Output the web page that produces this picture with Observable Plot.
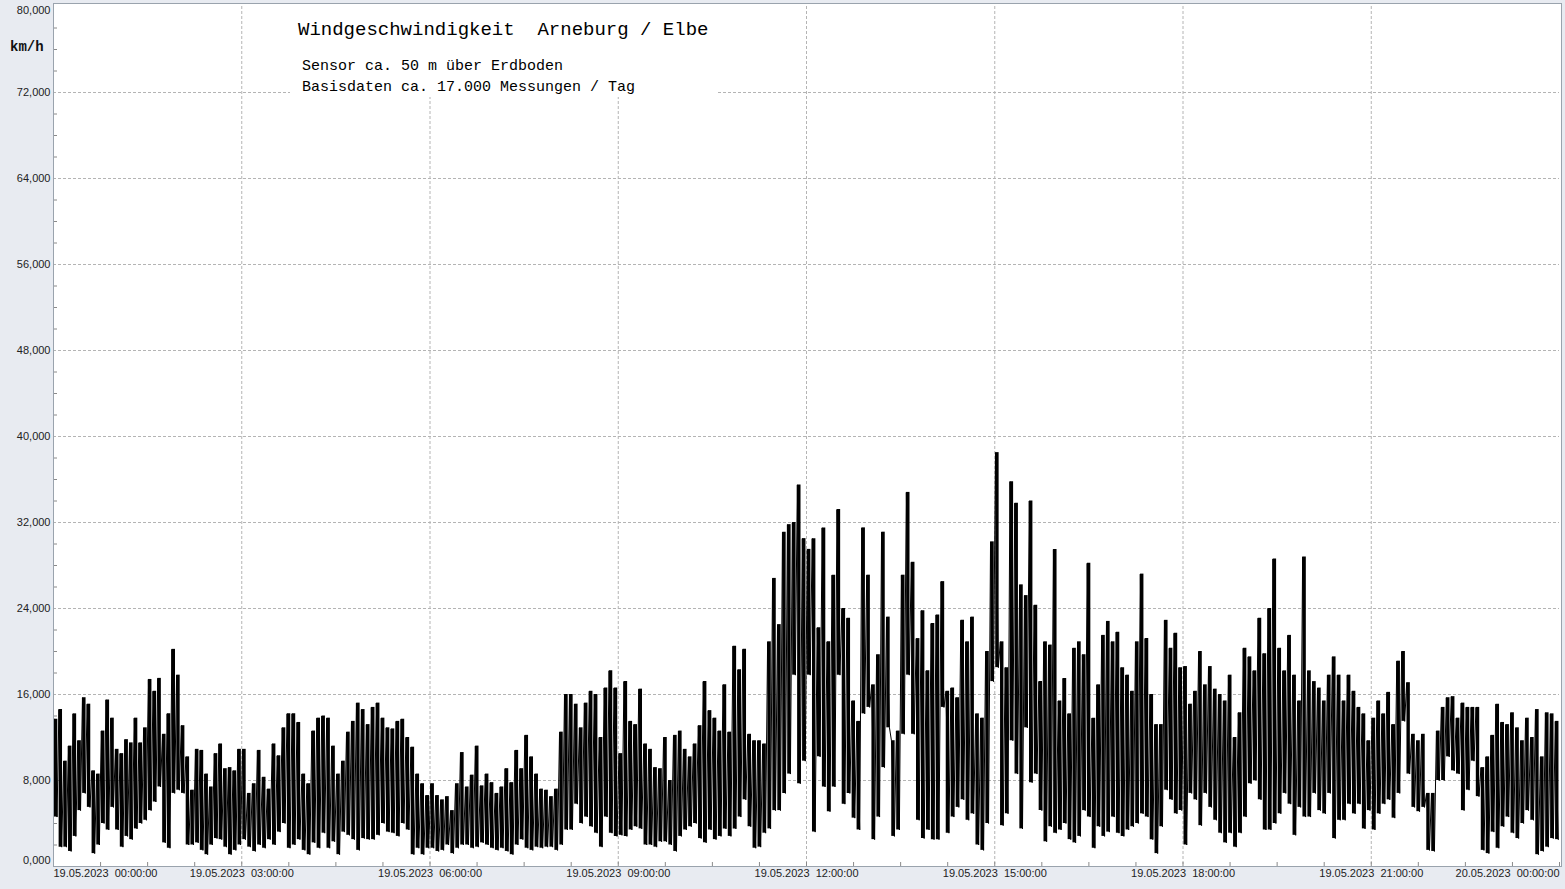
<!DOCTYPE html>
<html>
<head>
<meta charset="utf-8">
<script src="https://cdn.jsdelivr.net/npm/d3@7"></script>
<script src="https://cdn.jsdelivr.net/npm/@observablehq/plot@0.6"></script>
<style>
  html, body { margin: 0; padding: 0; background: #e8ebf1; }
  #wrap { position: relative; width: 1565px; height: 889px; overflow: hidden; background: #e8ebf1; }
  #titlebox { position: absolute; left: 290px; top: 6px; width: 428px; height: 91px; background: #ffffff;
              font-family: "Liberation Mono", "Courier New", monospace; color: #000; }
  #titlebox div { position: absolute; white-space: pre; }
  #t1 { left: 8px; top: 14px; font-size: 19px; line-height: 20px; }
  #t2 { left: 12px; top: 53px; font-size: 15px; line-height: 16px; }
  #t3 { left: 12px; top: 74px; font-size: 15px; line-height: 16px; }
  #unit { position: absolute; left: 10px; top: 39px; font-family: "Liberation Mono", "Courier New", monospace;
          font-weight: bold; font-size: 14px; line-height: 16px; color: #111; }
</style>
</head>
<body>
<div id="wrap">
  <div id="chart"></div>
  <div id="unit">km/h</div>
  <div id="titlebox">
    <div id="t1">Windgeschwindigkeit  Arneburg / Elbe</div>
    <div id="t2">Sensor ca. 50 m über Erdboden</div>
    <div id="t3">Basisdaten ca. 17.000 Messungen / Tag</div>
  </div>
</div>
<script>
// ---- Data (km/h): per ~5-minute slot the highest and lowest value ----
// 00:00 - 03:00
const hi00 = [13.7,14.6,9.8,11.2,14.2,11.7,15.7,15.1,8.9,8.6,12.6,15.5,13.8,10.9,10.5,11.8,11.5,13.8,11.5,12.9,17.4,16.3,17.5,12.3,14.2,20.2,17.8,13.1,10.2,7.1,10.9,10.8,8.6,7.4,10.5,11.4,9.1,9.2,8.9,10.9];
const lo00 = [4.6,1.8,1.8,1.4,2.8,5.2,6.8,5.5,1.2,2.0,4.0,3.4,5.5,3.4,1.8,2.8,2.5,3.5,4.0,4.3,5.2,6.0,7.4,2.2,1.7,6.8,7.1,6.8,2.0,2.0,2.2,1.5,1.1,2.0,2.6,2.5,1.8,1.1,1.5,2.0];
// 03:00 - 06:00
const hi03 = [10.9,6.8,7.7,10.8,8.3,7.2,11.4,10.3,12.9,14.2,14.2,13.4,8.6,7.7,12.6,13.8,14.0,13.8,11.2,8.6,9.8,12.5,13.5,15.2,14.6,13.2,14.8,15.2,13.8,12.9,12.8,13.5,13.7,12.0,11.1,8.6,7.7,6.6];
const lo03 = [2.5,1.8,1.4,2.0,1.7,2.5,2.0,3.2,4.0,1.7,2.0,2.5,1.5,1.1,2.2,1.7,3.1,1.7,2.3,1.1,3.2,2.9,2.5,1.5,2.6,2.5,2.5,2.9,4.0,3.2,3.1,2.8,4.0,3.4,1.1,1.7,1.1,1.7];
// 06:00 - 09:00
const hi06 = [7.7,6.6,6.2,6.5,5.2,7.7,10.6,7.4,8.5,11.2,7.5,8.6,7.8,6.8,7.4,9.1,7.8,10.8,9.1,12.2,10.2,8.6,7.2,7.1,6.5,7.2,12.5,16.0,16.0,15.1,12.9,15.2,16.3,16.0,12.0,16.6,18.2,16.6];
const lo06 = [1.7,1.4,1.5,2.0,1.2,1.7,2.0,2.0,1.7,1.8,2.2,2.0,1.7,1.5,1.7,1.4,1.1,2.0,2.5,1.7,1.5,1.8,1.7,1.8,1.8,1.5,2.0,3.4,3.4,5.8,4.0,4.6,3.7,3.1,1.8,4.6,3.1,2.8];
// 09:00 - 12:00
const hi09 = [10.5,17.2,13.5,13.2,16.5,11.4,10.9,9.2,9.1,12.0,8.0,12.2,12.6,10.9,10.2,11.4,13.1,17.2,14.5,13.8,12.6,16.9,12.5,20.5,18.3,20.2,12.3,11.7,11.7,11.4,20.9,26.8,22.5,31.1,31.8,32.0,35.5,30.5];
const lo09 = [2.9,2.8,3.4,3.7,3.5,2.0,2.0,1.8,2.3,2.3,2.0,1.4,2.8,3.4,3.7,4.0,2.6,2.2,3.4,2.5,2.8,3.5,2.8,3.5,4.6,6.2,3.7,1.7,1.8,3.1,3.5,5.2,5.2,6.8,8.6,17.8,7.7,9.8];
// 12:00 - 15:00
const hi12 = [29.5,30.5,22.2,31.5,20.9,27.1,33.2,24.0,23.1,15.4,13.5,31.5,27.1,16.9,19.7,31.1,23.2,11.7,12.6,27.1,34.8,28.3,21.2,23.8,18.2,22.6,23.4,26.5,16.3,16.6,15.7,22.9,20.9,23.2,14.2,13.8,20.0,30.2];
const lo12 = [17.8,3.2,10.2,7.4,5.1,7.4,17.8,5.8,6.8,4.5,3.4,14.2,14.8,2.5,4.6,9.2,12.9,2.8,3.4,12.3,17.8,12.3,4.3,2.6,3.4,2.5,2.5,14.8,3.1,4.6,5.5,6.2,4.3,4.9,2.0,1.5,4.0,17.2];
// 15:00 - 18:00
const hi15 = [38.5,20.9,18.5,35.8,33.8,26.2,25.2,34.0,24.3,17.2,20.9,20.6,29.5,15.4,17.5,14.2,20.3,20.9,19.7,28.2,13.8,16.9,21.5,22.8,20.9,21.8,18.5,17.8,16.3,20.9,27.2,21.2,16.0,13.2,13.2,22.9,20.3,21.7,18.5];
const lo15 = [18.5,3.8,4.9,11.7,8.6,3.5,12.9,7.8,8.6,5.2,2.3,3.7,3.1,3.4,4.0,2.5,2.2,2.8,5.2,4.6,1.7,3.7,2.8,3.2,4.6,3.1,2.8,3.4,3.7,4.0,4.9,4.6,2.5,1.2,3.7,7.1,6.2,4.9,5.2];
// 18:00 - 21:00
const hi18 = [18.6,15.1,16.3,20.0,16.9,18.6,16.5,16.0,15.4,17.8,12.0,14.3,20.3,19.5,18.2,23.1,19.8,24.0,28.6,20.3,18.2,21.5,17.8,15.4,28.8,18.2,17.2,16.6,15.4,17.8,19.5,17.8,15.4,17.8,16.3,14.8,14.2,11.7];
const lo18 = [2.0,6.8,6.2,3.8,6.8,5.5,4.3,3.1,2.2,3.1,1.8,3.1,4.6,7.7,8.0,6.2,3.4,3.4,4.0,4.9,6.8,5.8,2.9,5.5,4.6,4.6,6.8,5.2,4.9,6.8,2.6,4.3,4.3,5.8,4.9,5.8,3.5,5.2];
// 21:00 - 24:00
const hi21 = [13.8,15.4,14.2,16.2,13.2,19.1,20.0,17.1,12.3,11.7,12.3,6.8,6.8,12.6,14.8,15.7,15.8,13.8,15.2,14.8,14.8,14.8,9.2,10.2,12.2,15.1,13.4,13.2,14.3,12.9,11.7,13.8,12.0,14.6,10.2,14.3,14.2,13.5];
const lo21 = [3.4,4.9,5.8,6.2,4.5,6.8,13.5,8.6,5.5,5.1,5.5,1.5,1.4,8.0,8.0,10.2,8.9,8.6,5.2,7.1,9.8,6.5,1.5,1.2,3.2,1.7,3.7,4.6,3.1,2.6,4.0,5.2,4.3,1.1,1.4,1.8,2.6,2.5];

const segmentStarts = [0, 3, 6, 9, 12, 15, 18, 21];   // hours
const xTicks = [0, 3, 6, 9, 12, 15, 18, 21, 24];        // hours
const yTicks = [0, 8, 16, 24, 32, 40, 48, 56, 64, 72, 80];
const dateLabels = ["19.05.2023", "20.05.2023"];

// ---- build slots (range per slot) and the zig-zag trace ----
const his = [hi00, hi03, hi06, hi09, hi12, hi15, hi18, hi21];
const los = [lo00, lo03, lo06, lo09, lo12, lo15, lo18, lo21];
const trace = [];
const slots = [];
segmentStarts.forEach((h0, s) => {
  const hi = his[s], lo = los[s];
  const n = Math.min(hi.length, lo.length);
  for (let i = 0; i < n; i++) {
    trace.push({t: h0 + 3 * (i + 0.15) / n, v: hi[i]});
    trace.push({t: h0 + 3 * (i + 0.75) / n, v: lo[i]});
    slots.push({t: h0 + 3 * (i + 0.45) / n, hi: hi[i], lo: lo[i]});
  }
});

const pad = n => String(n).padStart(2, "0");
const xFmt = h => (h >= 24 ? dateLabels[1] : dateLabels[0]) + "\u00a0\u00a0" + pad(h % 24) + ":00:00";
const yFmt = v => v.toFixed(3).replace(".", ",");
const minorY = d3.range(0, 80.001, 2).filter(v => v % 8 !== 0);
const minorX = d3.range(0, 24.001, 0.75);

const labelFont = {fontSize: 11, fill: "#222", fontFamily: "'Liberation Sans', Arial, sans-serif"};
const gridStyle = {stroke: "#b4b4b4", strokeOpacity: 1, strokeDasharray: "3,2", strokeWidth: 1};

const chart = Plot.plot({
  width: 1565,
  height: 889,
  marginLeft: 53,
  marginRight: 6,
  marginTop: 6,
  marginBottom: 23,
  style: {background: "#e8ebf1", overflow: "visible"},
  x: {domain: [0, 24], axis: null},
  y: {domain: [0, 80], axis: null},
  marks: [
    Plot.frame({fill: "#ffffff", stroke: null, insetTop: -3, insetRight: -2}),
    Plot.gridY({ticks: yTicks.slice(1, -1), ...gridStyle}),
    Plot.gridX({ticks: xTicks.slice(1, -1), ...gridStyle}),
    Plot.axisY({ticks: minorY, tickSize: -4, tickFormat: () => "", stroke: "#8a8a8a", label: null}),
    Plot.axisX({ticks: minorX, tickSize: -4, tickFormat: () => "", stroke: "#8a8a8a", label: null}),
    Plot.ruleX(slots, {x: "t", y1: "lo", y2: "hi", stroke: "#000", strokeWidth: 3.4}),
    Plot.line(trace, {x: "t", y: "v", stroke: "#000", strokeWidth: 1}),
    Plot.frame({stroke: "#9aa3ad", insetTop: -3, insetRight: -2}),
    // y labels
    Plot.text(yTicks.slice(1, -1), {y: d => d, frameAnchor: "left", dx: -3, textAnchor: "end", text: yFmt, ...labelFont}),
    Plot.text(yTicks.slice(0, 1), {y: d => d, frameAnchor: "left", dx: -3, dy: -6, textAnchor: "end", text: yFmt, ...labelFont}),
    Plot.text(yTicks.slice(-1), {y: d => d, frameAnchor: "left", dx: -3, dy: 4, textAnchor: "end", text: yFmt, ...labelFont}),
    // x labels
    Plot.text(xTicks.slice(0, 1), {x: d => d, frameAnchor: "bottom", dy: 10, textAnchor: "start", text: xFmt, ...labelFont}),
    Plot.text(xTicks.slice(1, -1), {x: d => d, frameAnchor: "bottom", dy: 10, textAnchor: "middle", text: xFmt, ...labelFont}),
    Plot.text(xTicks.slice(-1), {x: d => d, frameAnchor: "bottom", dy: 10, textAnchor: "end", text: xFmt, ...labelFont})
  ]
});
document.getElementById("chart").appendChild(chart);
</script>
</body>
</html>
